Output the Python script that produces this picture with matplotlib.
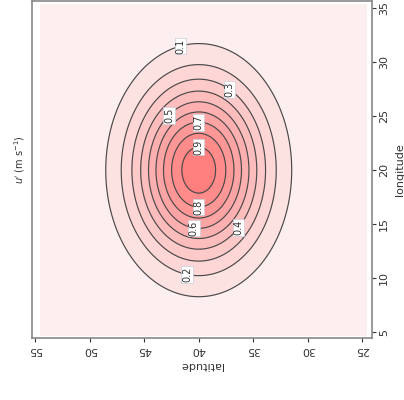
import numpy as np
import matplotlib
matplotlib.use("Agg")
import matplotlib.pyplot as plt
from matplotlib.colors import LinearSegmentedColormap

# Grid of the field (latitude on the horizontal axis, longitude on the vertical)
lat = np.linspace(24.6, 54.5, 241)
lon = np.linspace(4.7, 35.3, 241)

# Perturbation u' : single maximum centred at 40N, 20E
peak = 0.97
lat0, lon0 = 40.0, 20.0
sig_lat, sig_lon = 4.0, 5.5

levels = [0.0, 0.1, 0.2, 0.3, 0.4, 0.5, 0.6, 0.7, 0.8, 0.9, 1.0]
line_levels = [0.1, 0.2, 0.3, 0.4, 0.5, 0.6, 0.7, 0.8, 0.9]
lat_ticks = [55, 50, 45, 40, 35, 30, 25]
lon_ticks = [5, 10, 15, 20, 25, 30, 35]

# contour label directions: level -> (latitude, longitude) near the line
label_pts = {0.1: (41.7, 31.8), 0.3: (37.1, 27.6), 0.5: (42.9, 25.4),
             0.7: (40.0, 24.5), 0.9: (40.0, 22.3), 0.8: (40.0, 16.8),
             0.6: (40.4, 15.2), 0.4: (36.5, 14.9), 0.2: (41.0, 10.9)}

LA, LO = np.meshgrid(lat, lon)
u = peak * np.exp(-((LA - lat0) ** 2 / (2 * sig_lat ** 2)
                    + (LO - lon0) ** 2 / (2 * sig_lon ** 2)))

cmap = LinearSegmentedColormap.from_list("wr", ["#fdf5f5", "#ff7878"])

fig = plt.figure(figsize=(4.04, 4.0), dpi=100)
ax = fig.add_axes([0.079, 0.155, 0.842, 0.842])

ax.contourf(LA, LO, u, levels=levels, cmap=cmap, extend="neither")
cs = ax.contour(LA, LO, u, levels=line_levels, colors="#4a4a4a",
                linewidths=0.85)

# put each label on its own contour, along the direction of its anchor
for lev, (pa, po) in label_pts.items():
    da, do = (pa - lat0) / sig_lat, (po - lon0) / sig_lon
    rr = np.hypot(da, do)
    rt = np.sqrt(2 * np.log(peak / lev))
    xa = lat0 + da / rr * rt * sig_lat
    yo = lon0 + do / rr * rt * sig_lon
    ax.text(xa, yo, f"{lev:.1f}", rotation=90, fontsize=7, color="#333333",
            ha="center", va="center",
            bbox=dict(facecolor="white", edgecolor="#c8ccd6", pad=0.5,
                      linewidth=0.5))

ax.set_xlim(55.3, 24.1)
ax.set_ylim(4.45, 35.65)
ax.set_xticks(lat_ticks)
ax.set_yticks(lon_ticks)

ax.yaxis.tick_right()
ax.yaxis.set_label_position("right")
ax.tick_params(axis="x", labelrotation=180, labelsize=8, length=3,
               colors="#333333", pad=2)
ax.tick_params(axis="y", labelrotation=90, labelsize=8, length=3,
               colors="#333333", pad=2)
for lab in ax.get_yticklabels():
    lab.set_va("center")

ax.set_xlabel("latitude", rotation=180, fontsize=8, labelpad=4,
              color="#333333")
ax.set_ylabel("longitude", rotation=90, fontsize=8, labelpad=4,
              color="#333333")

for s in ax.spines.values():
    s.set_color("#888888")
    s.set_linewidth(1.2)

fig.text(20 / 404, 0.6, r"$u'$ (m s$^{-1}$)", rotation=90, fontsize=7,
         ha="center", va="center", color="#333333")

fig.savefig("out.png", dpi=100)
